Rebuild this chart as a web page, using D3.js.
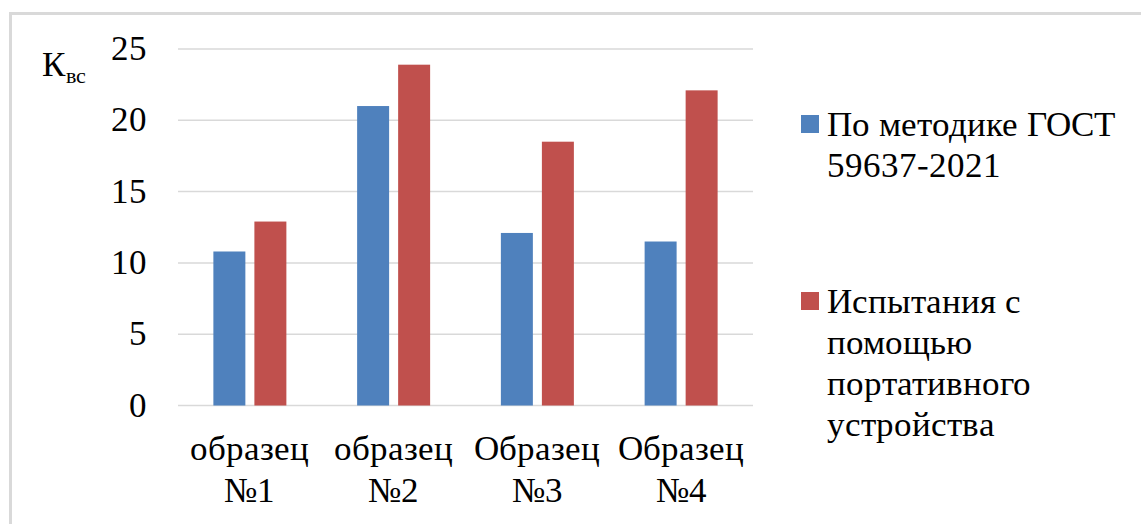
<!DOCTYPE html>
<html>
<head>
<meta charset="utf-8">
<script src="https://cdn.jsdelivr.net/npm/d3@7/dist/d3.min.js"></script>
<style>
  @font-face {
    font-family: "ChartSerif";
    src: local("Liberation Serif"), local("LiberationSerif"), local("LiberationSerif-Regular"), local("Tinos");
  }
  html, body { margin: 0; padding: 0; background: #fff; }
  svg { display: block; }
  .lbl { font-family: "ChartSerif", "Liberation Serif", serif; fill: #000; }
</style>
</head>
<body>
<svg id="chart" width="1141" height="524"></svg>
<script>
// Sample names (two lines each) and measured coefficients
const categories = ["образец\n№1", "образец\n№2", "Образец\n№3", "Образец\n№4"];
const seriesNames = ["По методике ГОСТ\n59637-2021", "Испытания с\nпомощью\nпортативного\nустройства"];
const gostValues = [10.8, 21.0, 12.1, 11.5];
const deviceValues = [12.9, 23.9, 18.5, 22.1];
const yTicks = [0, 5, 10, 15, 20, 25];
const colors = ["#4f81bd", "#c0504d"];

const values = [gostValues, deviceValues];
const svg = d3.select("#chart");

// Serif face applied to every label
function serif(sel) {
  sel.attr("class", "lbl").attr("font-family", "ChartSerif, 'Liberation Serif', serif")
    .each(function () { this.style.setProperty("font-family", "ChartSerif, 'Liberation Serif', serif", "important"); });
  return sel;
}

// Chart frame (left and top edges)
svg.append("path")
  .attr("d", "M10.5,524 V13.5 H1141")
  .attr("fill", "none")
  .attr("stroke", "#d9d9d9")
  .attr("stroke-width", 3);

const plot = { left: 178, right: 753, top: 49, bottom: 405.5 };

const y = d3.scaleLinear().domain([0, 25]).range([plot.bottom, plot.top]);
const x0 = d3.scaleBand().domain(d3.range(categories.length)).range([plot.left, plot.right]).padding(0);
const groupW = 73;
const x1 = d3.scaleBand().domain([0, 1])
  .range([(x0.bandwidth() - groupW) / 2, (x0.bandwidth() + groupW) / 2])
  .paddingInner(0.22).paddingOuter(0);

// Horizontal gridlines
svg.append("g").selectAll("line").data(yTicks).join("line")
  .attr("x1", plot.left).attr("x2", plot.right)
  .attr("y1", d => y(d)).attr("y2", d => y(d))
  .attr("stroke", "#d9d9d9").attr("stroke-width", 1.5);

// Y tick labels
svg.append("g").selectAll("text").data(yTicks).join("text")
  .call(serif)
  .attr("x", 147).attr("y", d => y(d) + 11)
  .attr("text-anchor", "end")
  .attr("font-size", 35)
  .text(d => d);

// Axis title К with subscript "вс"
const title = svg.append("text").call(serif)
  .attr("x", 42).attr("y", 76).attr("font-size", 35);
title.append("tspan").text("К");
title.append("tspan").attr("font-size", 22).attr("dy", 7).attr("dx", 1).text("вс");

// Bars
const groups = svg.append("g").selectAll("g").data(categories).join("g")
  .attr("transform", (d, i) => `translate(${x0(i)},0)`);
groups.selectAll("rect")
  .data((d, i) => values.map((s, k) => ({ k, v: s[i] })))
  .join("rect")
  .attr("x", d => x1(d.k))
  .attr("width", x1.bandwidth())
  .attr("y", d => y(d.v))
  .attr("height", d => y(0) - y(d.v))
  .attr("fill", d => colors[d.k]);

// Category labels
svg.append("g").selectAll("text").data(categories).join("text")
  .call(serif)
  .attr("x", (d, i) => x0(i) + x0.bandwidth() / 2)
  .attr("y", 460)
  .attr("text-anchor", "middle")
  .attr("font-size", 35)
  .each(function (d) {
    const t = d3.select(this);
    d.split("\n").forEach((line, j) => {
      t.append("tspan")
        .attr("x", t.attr("x"))
        .attr("dy", j === 0 ? 0 : 42)
        .text(line);
    });
  });

// Legend
const legendTop = [115, 292];
const legend = svg.append("g").selectAll("g").data(seriesNames).join("g")
  .attr("transform", (d, i) => `translate(801,${legendTop[i]})`);
legend.append("rect")
  .attr("width", 18).attr("height", 18)
  .attr("fill", (d, i) => colors[i]);
legend.append("text")
  .call(serif)
  .attr("x", 26).attr("y", 21)
  .attr("font-size", 35)
  .each(function (d) {
    const t = d3.select(this);
    d.split("\n").forEach((line, j) => {
      t.append("tspan")
        .attr("x", 26)
        .attr("dy", j === 0 ? 0 : 41)
        .text(line);
    });
  });
</script>
</body>
</html>
